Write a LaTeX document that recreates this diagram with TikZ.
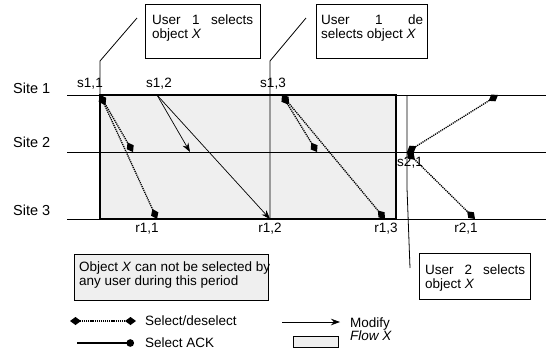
\documentclass[tikz,border=0pt]{standalone}
\usepackage{fontspec}
\setmainfont{Liberation Sans}
\usetikzlibrary{arrows.meta}
\definecolor{flowgray}{HTML}{EFEFEF}
\begin{document}
\begin{tikzpicture}[x=1pt,y=-1pt,
  siteline/.style={line width=0.9pt},
  flowbox/.style={fill=flowgray, draw=black, line width=1.1pt},
  selline/.style={line width=1.3pt, dash pattern=on 1.2pt off 0.9pt,
     {Diamond[length=11pt,width=8pt]}-{Diamond[length=11pt,width=8pt]}},
  modline/.style={line width=0.7pt, -{Stealth[length=9pt,width=6.5pt]}},
  ackline/.style={line width=2pt, -{Circle[length=7.5pt]}},
  lbl/.style={font=\fontsize{13.5}{14}\selectfont, inner sep=0pt},
  sitelbl/.style={font=\fontsize{14.5}{16}\selectfont, inner sep=0pt, anchor=base west},
  boxtext/.style={lbl, anchor=base west, align=left},
  cbox/.style={draw, line width=0.8pt, anchor=north west, inner sep=0pt},
  cline/.style={line width=0.8pt}]
\useasboundingbox (0,0) rectangle (546,360);

% flow region
\fill[flowgray] (100,95) rectangle (396,219);

% points
\coordinate (s11) at (100,95);
\coordinate (s12) at (157,95);
\coordinate (s13) at (282,95);
\coordinate (x1) at (498,95);
\coordinate (m1) at (133,152);
\coordinate (a1) at (190,152);
\coordinate (m3) at (317,152);
\coordinate (s21) at (407,152);
\coordinate (r11) at (157,219);
\coordinate (r12) at (270,219);
\coordinate (r13) at (385,219);
\coordinate (r21) at (475,219);

% site lines
\coordinate (l1a) at (67,95);  \coordinate (l1b) at (546,95);
\coordinate (l2a) at (67,152); \coordinate (l2b) at (546,152);
\coordinate (l3a) at (67,219); \coordinate (l3b) at (546,219);
\draw[siteline] (l1a) -- (l1b);
\draw[siteline] (l2a) -- (l2b);
\draw[siteline] (l3a) -- (l3b);
\draw[line width=1.1pt] (100,95) rectangle (396,219);

% site labels
\node[sitelbl] (site1) at (13,93) {Site 1};
\node[sitelbl] (site2) at (13,147) {Site 2};
\node[sitelbl] (site3) at (13,215) {Site 3};

% callout 1
\node[cbox, minimum width=115pt, minimum height=54pt] (b1) at (145,4) {};
\node[boxtext] (t1) at (152,38) {\makebox[101pt][s]{User 1 selects}\\object \textit{X}};
\coordinate (c1a) at (137,18); \coordinate (c1b) at (100,61);
\draw[cline] (c1a) -- (c1b) -- (s11);

% callout 2
\node[cbox, minimum width=111pt, minimum height=54pt] (b2) at (316,4) {};
\node[boxtext] (t2) at (321,38) {\makebox[102pt][s]{User 1 de}\\selects object \textit{X}};
\coordinate (c2a) at (306,18); \coordinate (c2b) at (270,61);
\draw[cline] (c2a) -- (c2b) -- (r12);

% callout 3
\node[cbox, minimum width=111pt, minimum height=46pt] (b3) at (419,253) {};
\node[boxtext] (t3) at (425,288) {\makebox[100pt][s]{User 2 selects}\\object \textit{X}};
\coordinate (c3a) at (407,95); \coordinate (c3b) at (407,188); \coordinate (c3c) at (410,268);
\draw[cline] (c3a) -- (c3b) -- (c3c);

% messages
\draw[selline] (s11) -- (m1);
\draw[selline] (s11) -- (r11);
\draw[modline] (s12) -- (a1);
\draw[modline] (s12) -- (r12);
\draw[selline] (s13) -- (m3);
\draw[selline] (s13) -- (r13);
\draw[selline] (s21) -- (x1);
\draw[selline] (s21) -- (r21);

% point labels
\node[lbl, anchor=base] (ls11) at (90,87) {s1,1};
\node[lbl, anchor=base] (ls12) at (159,87) {s1,2};
\node[lbl, anchor=base] (ls13) at (273,87) {s1,3};
\node[lbl, anchor=base] (ls21) at (410,166) {s2,1};
\node[lbl, anchor=base] (lr11) at (147,232) {r1,1};
\node[lbl, anchor=base] (lr12) at (270,232) {r1,2};
\node[lbl, anchor=base] (lr13) at (386,232) {r1,3};
\node[lbl, anchor=base] (lr21) at (466,232) {r2,1};

% note box
\node[cbox, fill=flowgray, minimum width=194pt, minimum height=46pt] (nb) at (74,254) {};
\node[boxtext] (nt) at (79,285) {Object \textit{X} can not be selected by\\any user during this period};

% legend
\coordinate (ls1) at (70,321); \coordinate (ls2) at (136,321);
\draw[selline] (ls1) -- (ls2);
\node[lbl, anchor=base west] (lsel) at (145,325) {Select/deselect};
\coordinate (la1) at (77,343); \coordinate (la2) at (134,343);
\draw[ackline] (la1) -- (la2);
\node[lbl, anchor=base west] (lack) at (145,347) {Select ACK};
\coordinate (lm1) at (282,322); \coordinate (lm2) at (340,322);
\draw[modline] (lm1) -- (lm2);
\node[lbl, anchor=base west] (lmod) at (350,327) {Modify};
\node[flowbox, line width=0.8pt, anchor=north west, minimum width=45pt, minimum height=11pt, inner sep=0pt] (lfb) at (293,336) {};
\node[lbl, anchor=base west] (lflow) at (350,340) {\textit{Flow X}};
\end{tikzpicture}
\end{document}
